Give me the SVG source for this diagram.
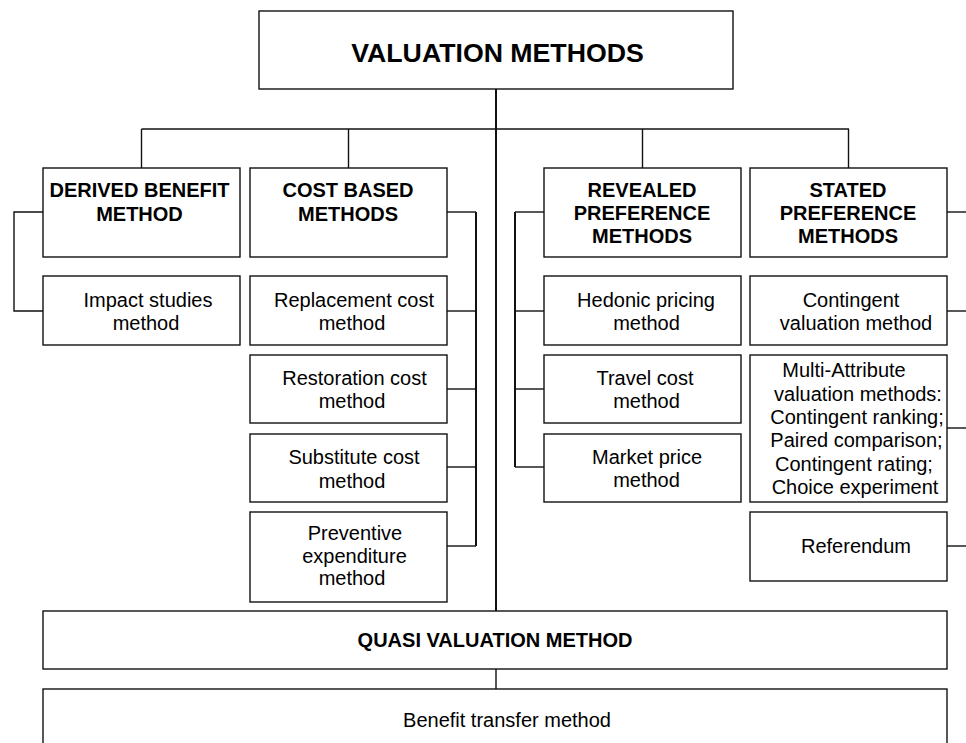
<svg xmlns="http://www.w3.org/2000/svg" width="966" height="743" viewBox="0 0 966 743">
  <style>
    .box { fill: #ffffff; stroke: #111111; stroke-width: 1.4; }
    .lbl { font-family: "Liberation Sans", Arial, sans-serif; font-size: 20px; fill: #000000; text-anchor: middle; }
    .hdr { font-weight: bold; }
    .title { font-size: 26.7px; font-weight: bold; }
    .wire { fill: none; stroke: #111111; stroke-width: 1.4; }
    .trunk { fill: none; stroke: #111111; stroke-width: 2; }
  </style>
  <rect width="966" height="743" fill="#ffffff"/>

  <!-- connectors -->
  <g id="connectors">
    <line class="trunk" x1="496" y1="89" x2="496" y2="611"/>
    <line class="wire" x1="141.5" y1="129" x2="849" y2="129"/>
    <line class="wire" x1="141.5" y1="129" x2="141.5" y2="168"/>
    <line class="wire" x1="348.5" y1="129" x2="348.5" y2="168"/>
    <line class="wire" x1="642.5" y1="129" x2="642.5" y2="168"/>
    <line class="wire" x1="848.5" y1="129" x2="848.5" y2="168"/>
    <!-- derived benefit bracket -->
    <polyline class="wire" points="43,212 14,212 14,311 43,311"/>
    <!-- cost based bus -->
    <line class="trunk" x1="476" y1="212" x2="476" y2="546"/>
    <line class="wire" x1="447" y1="212" x2="476" y2="212"/>
    <line class="wire" x1="447" y1="311" x2="476" y2="311"/>
    <line class="wire" x1="447" y1="389" x2="476" y2="389"/>
    <line class="wire" x1="447" y1="467" x2="476" y2="467"/>
    <line class="wire" x1="447" y1="546" x2="476" y2="546"/>
    <!-- revealed preference bus -->
    <line class="trunk" x1="515" y1="212" x2="515" y2="467"/>
    <line class="wire" x1="515" y1="212" x2="544" y2="212"/>
    <line class="wire" x1="515" y1="311" x2="544" y2="311"/>
    <line class="wire" x1="515" y1="389" x2="544" y2="389"/>
    <line class="wire" x1="515" y1="467" x2="544" y2="467"/>
    <!-- stated preference stubs -->
    <line class="wire" x1="947" y1="212" x2="966" y2="212"/>
    <line class="wire" x1="947" y1="311" x2="966" y2="311"/>
    <line class="wire" x1="947" y1="428" x2="966" y2="428"/>
    <line class="wire" x1="947" y1="546" x2="966" y2="546"/>
    <!-- quasi to benefit transfer -->
    <line class="wire" x1="496" y1="669" x2="496" y2="689"/>
  </g>

  <g id="valuation-methods">
    <rect class="box" x="259" y="11" width="474" height="78"/>
    <text class="lbl title" x="497.5" y="62">VALUATION METHODS</text>
  </g>

  <g id="derived-benefit">
    <rect class="box" x="43" y="168" width="197" height="89"/>
    <text class="lbl hdr" x="139.5" y="196.5">DERIVED BENEFIT</text>
    <text class="lbl hdr" x="139.5" y="221">METHOD</text>
  </g>
  <g id="cost-based">
    <rect class="box" x="250" y="168" width="197" height="89"/>
    <text class="lbl hdr" x="348" y="196.5">COST BASED</text>
    <text class="lbl hdr" x="348" y="221">METHODS</text>
  </g>
  <g id="revealed-preference">
    <rect class="box" x="544" y="168" width="197" height="89"/>
    <text class="lbl hdr" x="642" y="196.5">REVEALED</text>
    <text class="lbl hdr" x="642" y="220">PREFERENCE</text>
    <text class="lbl hdr" x="642" y="243">METHODS</text>
  </g>
  <g id="stated-preference">
    <rect class="box" x="750" y="168" width="197" height="89"/>
    <text class="lbl hdr" x="848" y="196.5">STATED</text>
    <text class="lbl hdr" x="848" y="220">PREFERENCE</text>
    <text class="lbl hdr" x="848" y="243">METHODS</text>
  </g>

  <g id="impact-studies">
    <rect class="box" x="43" y="276" width="197" height="69"/>
    <text class="lbl" x="148" y="306.7">Impact studies</text>
    <text class="lbl" x="146" y="329.5">method</text>
  </g>

  <g id="replacement-cost">
    <rect class="box" x="250" y="276" width="197" height="69"/>
    <text class="lbl" x="354" y="306.7">Replacement cost</text>
    <text class="lbl" x="352" y="329.5">method</text>
  </g>
  <g id="restoration-cost">
    <rect class="box" x="250" y="355" width="197" height="68"/>
    <text class="lbl" x="354.5" y="385">Restoration cost</text>
    <text class="lbl" x="352" y="408">method</text>
  </g>
  <g id="substitute-cost">
    <rect class="box" x="250" y="434" width="197" height="68"/>
    <text class="lbl" x="354" y="464">Substitute cost</text>
    <text class="lbl" x="352" y="487.5">method</text>
  </g>
  <g id="preventive-expenditure">
    <rect class="box" x="250" y="512" width="197" height="90"/>
    <text class="lbl" x="355" y="540">Preventive</text>
    <text class="lbl" x="354.5" y="562.7">expenditure</text>
    <text class="lbl" x="352" y="585">method</text>
  </g>

  <g id="hedonic-pricing">
    <rect class="box" x="544" y="276" width="197" height="69"/>
    <text class="lbl" x="646" y="306.7">Hedonic pricing</text>
    <text class="lbl" x="646.5" y="329.5">method</text>
  </g>
  <g id="travel-cost">
    <rect class="box" x="544" y="355" width="197" height="68"/>
    <text class="lbl" x="645" y="385">Travel cost</text>
    <text class="lbl" x="646.5" y="408">method</text>
  </g>
  <g id="market-price">
    <rect class="box" x="544" y="434" width="197" height="68"/>
    <text class="lbl" x="647" y="464">Market price</text>
    <text class="lbl" x="646.5" y="487">method</text>
  </g>

  <g id="contingent-valuation">
    <rect class="box" x="750" y="276" width="197" height="69"/>
    <text class="lbl" x="851" y="306.7">Contingent</text>
    <text class="lbl" x="856" y="329.5">valuation method</text>
  </g>
  <g id="multi-attribute">
    <rect class="box" x="750" y="355" width="197" height="147"/>
    <text class="lbl" x="844" y="377.3">Multi-Attribute</text>
    <text class="lbl" x="858" y="400.5">valuation methods:</text>
    <text class="lbl" x="857" y="424">Contingent ranking;</text>
    <text class="lbl" x="856.5" y="447">Paired comparison;</text>
    <text class="lbl" x="854" y="470.7">Contingent rating;</text>
    <text class="lbl" x="855" y="494">Choice experiment</text>
  </g>
  <g id="referendum">
    <rect class="box" x="750" y="512" width="197" height="69"/>
    <text class="lbl" x="856" y="553.3">Referendum</text>
  </g>

  <g id="quasi-valuation">
    <rect class="box" x="43" y="611" width="904" height="58"/>
    <text class="lbl hdr" x="495" y="647.3">QUASI VALUATION METHOD</text>
  </g>
  <g id="benefit-transfer">
    <rect class="box" x="43" y="689" width="904" height="80"/>
    <text class="lbl" x="507" y="726.7">Benefit transfer method</text>
  </g>
</svg>
